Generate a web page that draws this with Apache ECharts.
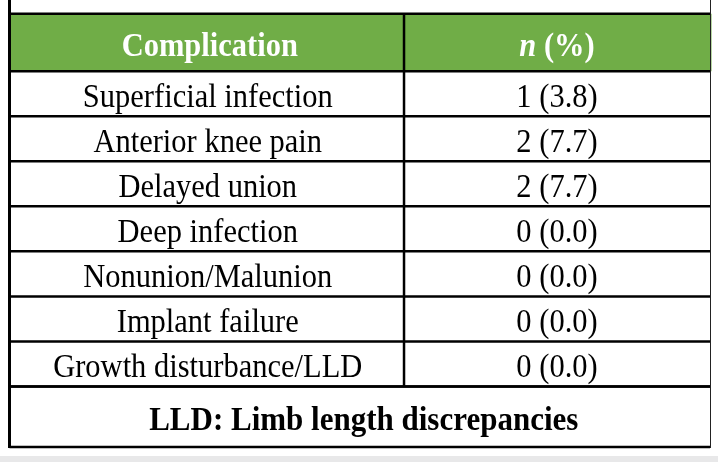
<!DOCTYPE html>
<html>
<head>
<meta charset="utf-8">
<script src="https://cdn.jsdelivr.net/npm/echarts@6/dist/echarts.min.js"></script>
<style>
html,body{margin:0;padding:0;background:#fff;}
#main{width:718px;height:462px;}
</style>
</head>
<body>
<div id="main"></div>
<script>
var headers = ['Complication', 'n (%)'];
var complications = ['Superficial infection', 'Anterior knee pain', 'Delayed union', 'Deep infection',
	'Nonunion/Malunion', 'Implant failure', 'Growth disturbance/LLD'];
var counts = [1, 2, 2, 0, 0, 0, 0];
var percents = [3.8, 7.7, 7.7, 0.0, 0.0, 0.0, 0.0];
var footnote = 'LLD: Limb length discrepancies';

var FONT = '"Liberation Serif", "Times New Roman", serif';
var SPLIT = 0.5632;   // column divider, fraction of table width
var LW = 2.5;
var STRETCH = 1.12;   // glyphs in the source are a bit taller than wide

function box(api, idx) {
	var c = api.coord([0, idx]);
	var s = api.size([1, 1]);
	return {x0: c[0], w: s[0], cy: c[1], top: c[1] - s[1] / 2, bot: c[1] + s[1] / 2, xs: c[0] + s[0] * SPLIT};
}
function hline(x1, x2, y) {
	return {type: 'line', shape: {x1: x1, y1: y, x2: x2, y2: y}, style: {stroke: '#000', lineWidth: LW}};
}
function vline(x, y1, y2) {
	return {type: 'line', shape: {x1: x, y1: y1, x2: x, y2: y2}, style: {stroke: '#000', lineWidth: LW}};
}
function txt(t, x, y, color, weight, size, rich) {
	return {type: 'text', x: x, y: y, scaleY: STRETCH,
		style: {text: t, x: 0, y: 0, align: 'center', verticalAlign: 'middle',
			fontFamily: FONT, fontSize: size, fontWeight: weight, fill: color, rich: rich}};
}

function renderHeader(params, api) {
	var b = box(api, api.value(1));
	return {type: 'group', children: [
		{type: 'rect', shape: {x: b.x0, y: b.top, width: b.w + 1.5, height: b.bot - b.top}, style: {fill: '#70ad47'}},
		hline(b.x0, b.x0 + b.w, b.top),
		hline(b.x0, b.x0 + b.w, b.bot),
		vline(b.xs, b.top, b.bot),
		txt(headers[0], (b.x0 + b.xs) / 2 + 3, b.cy + 5, '#fff', 'bold', 30.5),
		txt('{i|n} (%)', (b.xs + b.x0 + b.w) / 2, b.cy + 5, '#fff', 'bold', 30.5,
			{i: {fontStyle: 'italic', fontWeight: 'bold', fontFamily: FONT, fontSize: 30.5, fill: '#fff'}})
	]};
}
function renderRow(params, api) {
	var idx = api.value(1);
	var b = box(api, idx);
	return {type: 'group', children: [
		hline(b.x0, b.x0 + b.w, b.bot),
		vline(b.xs, b.top, b.bot),
		txt(complications[idx], (b.x0 + b.xs) / 2 + 1, b.cy + 4, '#000', 'normal', 30.5),
		txt(counts[idx] + ' (' + percents[idx].toFixed(1) + ')', (b.xs + b.x0 + b.w) / 2, b.cy + 4, '#000', 'normal', 30.5)
	]};
}
function renderFoot(params, api) {
	var b = box(api, api.value(1));
	return {type: 'group', children: [
		hline(b.x0, b.x0 + b.w, b.top),
		hline(b.x0, b.x0 + b.w, b.bot),
		txt(footnote, b.x0 + b.w / 2 + 4, b.cy + 4, '#000', 'bold', 31)
	]};
}

var chart = echarts.init(document.getElementById('main'));
var xa = {type: 'value', min: 0, max: 1, show: false};
var option = {
	animation: false,
	grid: [
		{left: 9.5, width: 700.5, top: 13.75, height: 57.45},
		{left: 9.5, width: 700.5, top: 71.2, height: 315.3},
		{left: 9.5, width: 700.5, top: 386.5, height: 60.5}
	],
	xAxis: [
		Object.assign({gridIndex: 0}, xa),
		Object.assign({gridIndex: 1}, xa),
		Object.assign({gridIndex: 2}, xa)
	],
	yAxis: [
		{gridIndex: 0, type: 'category', inverse: true, show: false, data: ['header']},
		{gridIndex: 1, type: 'category', inverse: true, show: false, data: complications},
		{gridIndex: 2, type: 'category', inverse: true, show: false, data: ['note']}
	],
	graphic: [
		{type: 'rect', shape: {x: 0, y: 456, width: 718, height: 6}, style: {fill: '#e8e8e9'}, silent: true},
		{type: 'line', shape: {x1: 9.5, y1: 0, x2: 9.5, y2: 448}, style: {stroke: '#000', lineWidth: 3}, z: 10},
		{type: 'line', shape: {x1: 710.5, y1: 0, x2: 710.5, y2: 448}, style: {stroke: '#222', lineWidth: 1}, z: 10}
	],
	series: [
		{type: 'custom', xAxisIndex: 0, yAxisIndex: 0, renderItem: renderHeader, data: [[0.5, 0]]},
		{type: 'custom', xAxisIndex: 1, yAxisIndex: 1, renderItem: renderRow,
			data: complications.map(function (c, i) { return [0.5, i]; })},
		{type: 'custom', xAxisIndex: 2, yAxisIndex: 2, renderItem: renderFoot, data: [[0.5, 0]]}
	]
};
chart.setOption(option);
</script>
</body>
</html>
